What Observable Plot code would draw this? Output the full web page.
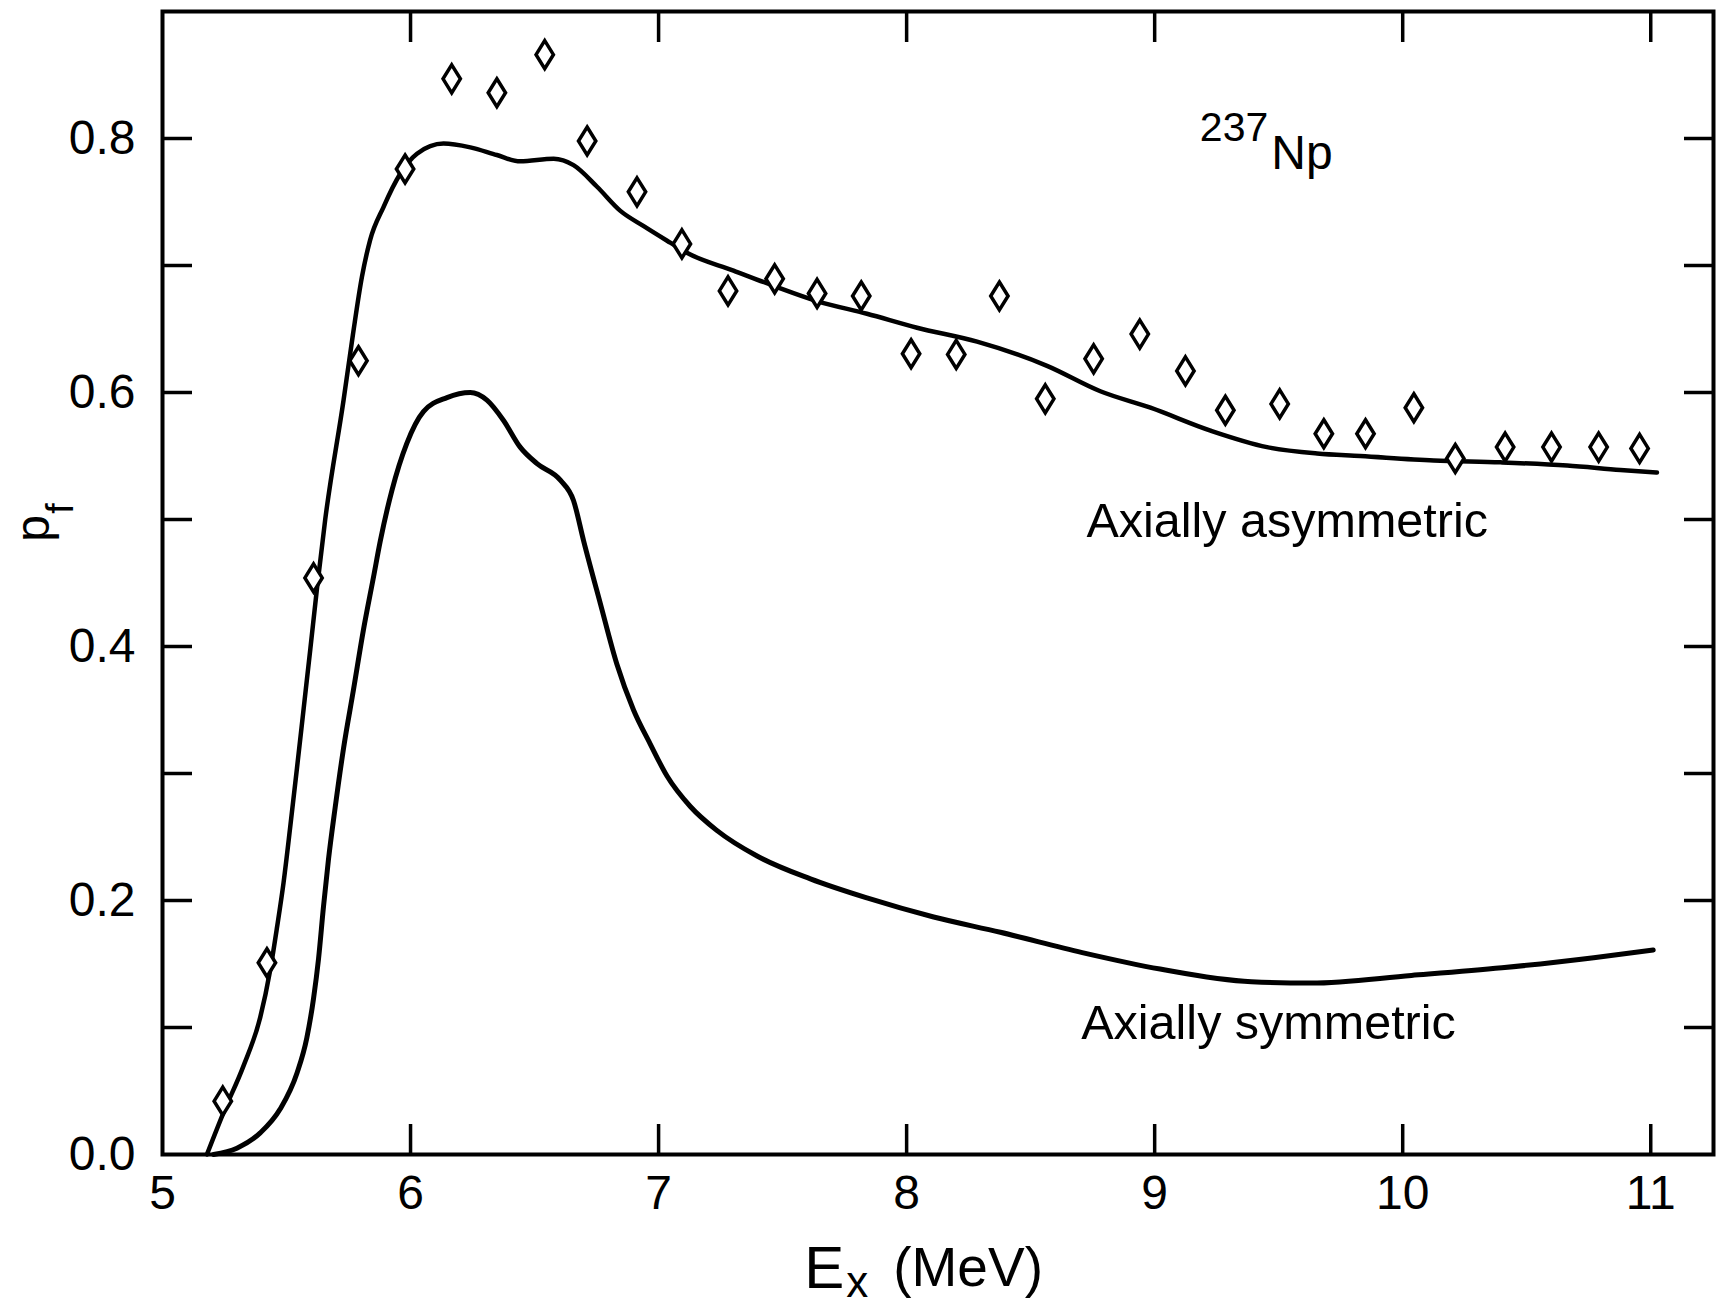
<!DOCTYPE html>
<html>
<head>
<meta charset="utf-8">
<style>
  html, body { margin: 0; padding: 0; background: #ffffff; }
  #chart svg { display: block; }
</style>
<script src="https://cdn.jsdelivr.net/npm/d3@7"></script>
<script src="https://cdn.jsdelivr.net/npm/@observablehq/plot@0.6"></script>
</head>
<body>
<div id="chart"></div>
<script>
// ---------- data ----------
// Calculated fission probability, axially asymmetric barrier
const asymE  = [5.179, 5.246, 5.327, 5.394, 5.434, 5.461, 5.488, 5.515, 5.542, 5.569, 5.596, 5.623, 5.656,
                5.730, 5.768, 5.804, 5.837, 5.891, 5.958, 6.026, 6.133, 6.241, 6.348, 6.442, 6.577, 6.657,
                6.752, 6.846, 6.940, 7.047, 7.114, 7.302, 7.464, 7.639, 7.840, 8.042, 8.284, 8.566, 8.781,
                8.983, 9.225, 9.453, 9.655, 9.829, 10.125, 10.394, 10.663, 10.878, 11.025];
const asymPf = [0.000, 0.033, 0.070, 0.108, 0.145, 0.178, 0.214, 0.258, 0.304, 0.351, 0.398, 0.446, 0.500,
                0.594, 0.646, 0.691, 0.720, 0.746, 0.772, 0.788, 0.796, 0.793, 0.787, 0.782, 0.784, 0.779,
                0.762, 0.743, 0.731, 0.718, 0.710, 0.696, 0.684, 0.672, 0.662, 0.651, 0.640, 0.621, 0.601,
                0.588, 0.570, 0.557, 0.552, 0.550, 0.5465, 0.545, 0.5425, 0.539, 0.537];

// Calculated fission probability, axially symmetric barrier
const symE  = [5.206, 5.300, 5.394, 5.475, 5.542, 5.582, 5.609, 5.629, 5.649, 5.669, 5.696, 5.730, 5.770,
               5.810, 5.851, 5.878, 5.925, 5.985, 6.052, 6.147, 6.241, 6.308, 6.375, 6.442, 6.510, 6.604,
               6.657, 6.698, 6.765, 6.832, 6.899, 6.967, 7.034, 7.128, 7.236, 7.397, 7.612, 7.840, 8.109,
               8.378, 8.708, 9.022, 9.390, 9.630, 10.035, 10.400, 10.770, 11.010];
const symPf = [0.000, 0.005, 0.017, 0.036, 0.064, 0.092, 0.123, 0.154, 0.195, 0.232, 0.273, 0.320, 0.366,
               0.413, 0.455, 0.483, 0.523, 0.560, 0.585, 0.596, 0.600, 0.594, 0.578, 0.557, 0.544, 0.531,
               0.515, 0.483, 0.434, 0.386, 0.350, 0.323, 0.298, 0.274, 0.255, 0.235, 0.217, 0.202, 0.187,
               0.175, 0.159, 0.146, 0.136, 0.135, 0.141, 0.147, 0.155, 0.161];

// Measured points (diamonds)
const dataE  = [5.243, 5.421, 5.609, 5.790, 5.978, 6.166, 6.348, 6.541, 6.712, 6.913, 7.094, 7.280, 7.468,
                7.639, 7.817, 8.018, 8.200, 8.374, 8.559, 8.754, 8.940, 9.124, 9.285, 9.504, 9.682, 9.850,
                10.045, 10.212, 10.413, 10.600, 10.790, 10.955];
const dataPf = [0.042, 0.151, 0.454, 0.625, 0.776, 0.847, 0.836, 0.866, 0.798, 0.758, 0.717, 0.680, 0.6895,
                0.678, 0.676, 0.6305, 0.630, 0.676, 0.595, 0.6265, 0.646, 0.617, 0.586, 0.591, 0.5675, 0.5675,
                0.588, 0.548, 0.557, 0.557, 0.557, 0.556];

// Axis ticks
const xLabelTicks = [5, 6, 7, 8, 9, 10, 11];
const xMarkTicks  = [6, 7, 8, 9, 10, 11];
const yLabelTicks = [0, 0.2, 0.4, 0.6, 0.8];
const yMarkTicks  = [0.1, 0.2, 0.3, 0.4, 0.5, 0.6, 0.7, 0.8];

// Annotation anchors (in data units: E in MeV, pf)
const nucleusLabel = {mass: "237", symbol: "Np", E: 9.458, massPf: 0.798, symbolPf: 0.776};
const curveLabels = [
  {text: "Axially asymmetric", E: 8.725, pf: 0.486},
  {text: "Axially symmetric",  E: 8.704, pf: 0.091}
];

// ---------- build tables ----------
const asym = asymE.map((e, i) => ({e, pf: asymPf[i]}));
const sym  = symE.map((e, i) => ({e, pf: symPf[i]}));
const pts  = dataE.map((e, i) => ({e, pf: dataPf[i]}));

// tall open diamond symbol
const tallDiamond = {
  draw(context, size) {
    const r = Math.sqrt(size / Math.PI);
    const w = r * 0.62;
    context.moveTo(0, -r);
    context.lineTo(w, 0);
    context.lineTo(0, r);
    context.lineTo(-w, 0);
    context.closePath();
  }
};

const FONT = "'Liberation Sans', Arial, Helvetica, sans-serif";

const chart = Plot.plot({
  width: 1720,
  height: 1310,
  marginLeft: 162,
  marginRight: 7,
  marginTop: 11,
  marginBottom: 156,
  style: {fontFamily: FONT, background: "#ffffff", color: "#000000"},
  x: {domain: [5, 11.253], label: null},
  y: {domain: [0, 0.9], label: null},
  marks: [
    // inward tick marks on all four sides
    Plot.axisX({anchor: "bottom", ticks: xMarkTicks, tickSize: -30, strokeWidth: 3.5, fill: "none", label: null}),
    Plot.axisX({anchor: "top", ticks: xMarkTicks, tickSize: -30, strokeWidth: 3.5, fill: "none", label: null}),
    Plot.axisY({anchor: "left", ticks: yMarkTicks, tickSize: -30, strokeWidth: 3.5, fill: "none", label: null}),
    Plot.axisY({anchor: "right", ticks: yMarkTicks, tickSize: -30, strokeWidth: 3.5, fill: "none", label: null}),
    // tick labels
    Plot.axisX({anchor: "bottom", ticks: xLabelTicks, tickSize: 0, tickPadding: 20, fontSize: 48,
                tickFormat: d => String(d), label: null}),
    Plot.axisY({anchor: "left", ticks: yLabelTicks, tickSize: 0, tickPadding: 27, fontSize: 48,
                tickFormat: d3.format(".1f"), label: null}),
    // frame
    Plot.frame({stroke: "#000", strokeWidth: 4}),
    // curves
    Plot.line(asym, {x: "e", y: "pf", curve: "monotone-x", stroke: "#000", strokeWidth: 4.5}),
    Plot.line(sym,  {x: "e", y: "pf", curve: "monotone-x", stroke: "#000", strokeWidth: 5}),
    // measured points
    Plot.dot(pts, {x: "e", y: "pf", symbol: tallDiamond, r: 14, stroke: "#000", strokeWidth: 3.5, fill: "#fff"}),
    // nucleus label 237Np
    Plot.text([nucleusLabel], {x: "E", y: "massPf", text: "mass", textAnchor: "end", lineAnchor: "bottom",
                               fontSize: 41, fill: "#000"}),
    Plot.text([nucleusLabel], {x: "E", y: "symbolPf", text: "symbol", textAnchor: "start", lineAnchor: "bottom",
                               dx: 3, fontSize: 48, fill: "#000"}),
    // curve labels
    Plot.text(curveLabels, {x: "E", y: "pf", text: "text", textAnchor: "start", lineAnchor: "bottom",
                            fontSize: 48.5, fill: "#000"}),
    // x-axis title  E_x (MeV)
    Plot.text(["E"], {x: 7.587, frameAnchor: "bottom", text: d => d, textAnchor: "start", lineAnchor: "bottom",
                      dy: 133, fontSize: 60, fill: "#000"}),
    Plot.text(["x"], {x: 7.757, frameAnchor: "bottom", text: d => d, textAnchor: "start", lineAnchor: "bottom",
                      dy: 142, fontSize: 44, fill: "#000"}),
    Plot.text(["(MeV)"], {x: 7.946, frameAnchor: "bottom", text: d => d, textAnchor: "start", lineAnchor: "bottom",
                          dy: 131, fontSize: 55, fill: "#000"}),
    // y-axis title  p_f (rotated)
    Plot.text(["p"], {y: 0.493, frameAnchor: "left", text: d => d, textAnchor: "middle", lineAnchor: "bottom",
                      rotate: -90, dx: -114, fontSize: 48, fill: "#000"}),
    Plot.text(["f"], {y: 0.5087, frameAnchor: "left", text: d => d, textAnchor: "middle", lineAnchor: "bottom",
                      rotate: -90, dx: -90, fontSize: 38, fill: "#000"})
  ]
});

document.getElementById("chart").appendChild(chart);
</script>
</body>
</html>
